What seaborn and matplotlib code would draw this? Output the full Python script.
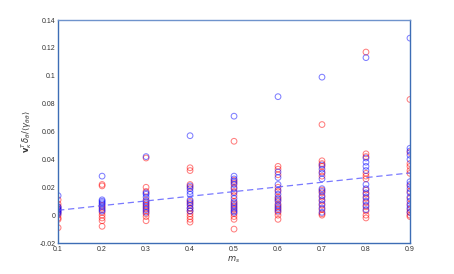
import numpy as np
import pandas as pd
import seaborn as sns
import matplotlib
matplotlib.use("Agg")
import matplotlib.pyplot as plt
from matplotlib.ticker import FuncFormatter

# values, one list per m_s column
m_s = [0.1, 0.2, 0.3, 0.4, 0.5, 0.6, 0.7, 0.8, 0.9]

blue_vals = [
    [0.014, 0.006, 0.005, 0.004, 0.003, 0.002, 0.001],
    [0.028, 0.011, 0.010, 0.009, 0.008, 0.006, 0.004, 0.003],
    [0.042, 0.016, 0.015, 0.013, 0.010, 0.008, 0.006, 0.004, 0.002],
    [0.057, 0.021, 0.019, 0.017, 0.015, 0.011, 0.009, 0.007, 0.005, 0.003],
    [0.071, 0.028, 0.026, 0.024, 0.022, 0.019, 0.016, 0.012, 0.009, 0.007, 0.005, 0.003, 0.002],
    [0.085, 0.031, 0.027, 0.022, 0.018, 0.015, 0.012, 0.010, 0.007, 0.005, 0.003],
    [0.099, 0.036, 0.033, 0.030, 0.026, 0.019, 0.017, 0.014, 0.011, 0.008, 0.005, 0.002],
    [0.113, 0.041, 0.038, 0.035, 0.032, 0.022, 0.019, 0.016, 0.013, 0.010, 0.007, 0.004],
    [0.127, 0.048, 0.046, 0.043, 0.040, 0.024, 0.022, 0.019, 0.016, 0.013, 0.010, 0.007, 0.005, 0.002],
]

red_vals = [
    [0.011, 0.008, 0.006, 0.004, 0.002, 0.000, -0.002, -0.003, -0.009],
    [0.022, 0.021, 0.007, 0.005, 0.002, 0.000, -0.002, -0.004, -0.008],
    [0.041, 0.020, 0.017, 0.011, 0.009, 0.007, 0.005, 0.003, 0.001, -0.001, -0.004],
    [0.034, 0.032, 0.022, 0.020, 0.010, 0.008, 0.005, 0.003, 0.001, -0.001, -0.003, -0.005],
    [0.053, 0.025, 0.023, 0.020, 0.017, 0.014, 0.010, 0.008, 0.006, 0.004, 0.001, -0.001, -0.003, -0.010],
    [0.035, 0.033, 0.029, 0.020, 0.017, 0.013, 0.011, 0.008, 0.006, 0.004, 0.002, 0.000, -0.003],
    [0.065, 0.039, 0.037, 0.035, 0.031, 0.028, 0.018, 0.016, 0.013, 0.010, 0.007, 0.004, 0.001, 0.000],
    [0.117, 0.044, 0.042, 0.030, 0.028, 0.026, 0.018, 0.015, 0.012, 0.009, 0.006, 0.003, 0.000, -0.002],
    [0.083, 0.045, 0.037, 0.035, 0.032, 0.030, 0.021, 0.017, 0.012, 0.008, 0.004, 0.002, 0.000, -0.001],
]

# dashed trend line end points
fit_x = [0.1, 0.9]
fit_y = [0.0035, 0.0303]

rows = []
for name, vals in [("red", red_vals), ("blue", blue_vals)]:
    for m, col in zip(m_s, vals):
        for v in col:
            rows.append({"m_s": m, "val": v, "series": name})
df = pd.DataFrame(rows)

sns.set_style("white")
plt.rcParams["font.family"] = ["Liberation Sans", "DejaVu Sans"]

fig = plt.figure(figsize=(4.54, 2.74), dpi=100)
ax = fig.add_axes([0.128, 0.113, 0.775, 0.814])

sns.scatterplot(data=df, x="m_s", y="val", hue="series",
                palette={"red": (1, 0, 0), "blue": (0, 0, 1)},
                s=17, linewidth=0.75, alpha=0.5, legend=False, ax=ax)
# hollow markers
for coll in ax.collections:
    fc = coll.get_facecolors()
    coll.set_edgecolors(fc)
    coll.set_facecolors("none")

sns.lineplot(x=fit_x, y=fit_y, ax=ax, color=(0.35, 0.35, 1.0), alpha=0.8,
             linestyle=(0, (5, 3)), linewidth=0.9)

ax.set_xlim(0.1, 0.9)
ax.set_ylim(-0.02, 0.14)
ax.set_xticks(m_s)
ax.set_yticks(np.arange(-0.02, 0.1401, 0.02))
ax.yaxis.set_major_formatter(FuncFormatter(lambda v, p: "%g" % round(v, 2)))
ax.xaxis.set_major_formatter(FuncFormatter(lambda v, p: "%g" % round(v, 1)))
ax.tick_params(direction="in", length=2, width=0.5, labelsize=5, pad=2,
               colors="#444444", labelcolor="#333333")

for side, sp in ax.spines.items():
    sp.set_visible(True)
    sp.set_color("#3d6db5")
    sp.set_linewidth(1.0)
ax.spines["top"].set_color("#6f93cc")

ax.set_xlabel(r"$m_s$", fontsize=6, labelpad=1, color="#333333")
ax.set_ylabel(r"$\mathbf{v}_\kappa^{T}\,\delta_\theta/\langle\gamma_{\theta\theta}\rangle$",
              fontsize=6, labelpad=4, color="#333333")

fig.savefig("out.png", dpi=100)
